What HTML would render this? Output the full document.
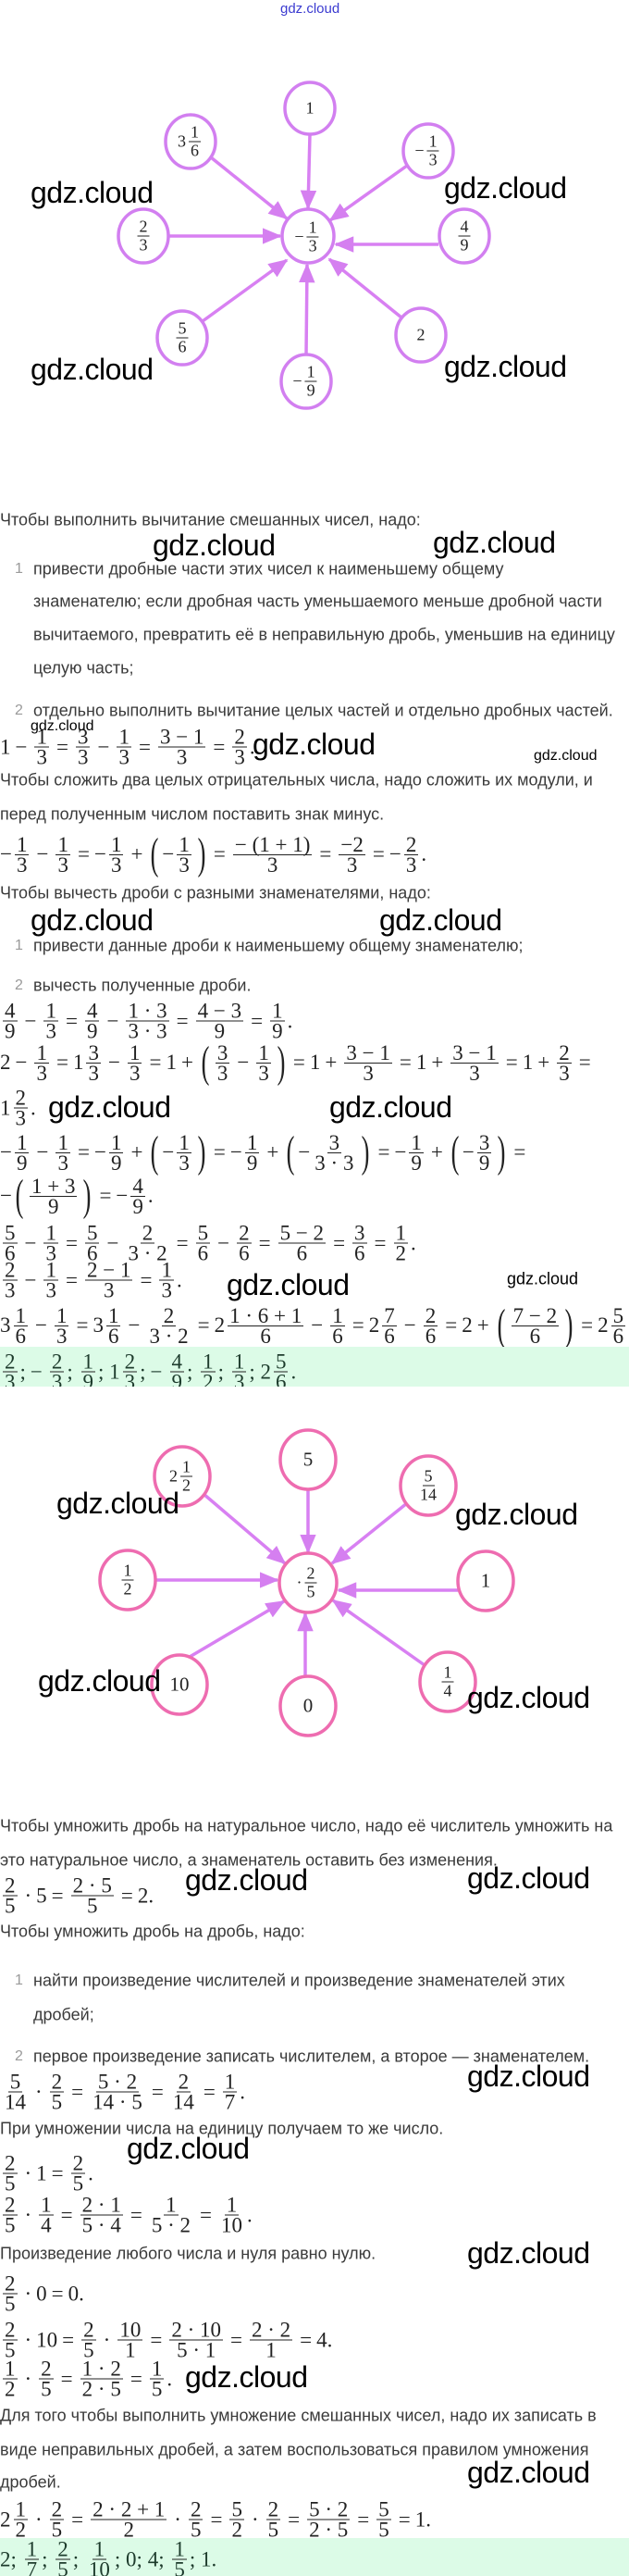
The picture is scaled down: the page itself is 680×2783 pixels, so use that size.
<!DOCTYPE html>
<html><head><meta charset="utf-8">
<style>
body{margin:0;background:#fff;width:680px;height:2783px;position:relative;overflow:hidden;font-family:"Liberation Sans",sans-serif;}
.a{position:absolute;white-space:nowrap}
.t{position:absolute;white-space:nowrap;font-size:18px;color:#3a3a3a;transform:translateY(-50%);left:0}
.li{left:36px}
.num{position:absolute;left:16px;font-size:16px;color:#9a9a9a;transform:translateY(-50%)}
.w{position:absolute;white-space:nowrap;font-family:"Liberation Sans",sans-serif;font-size:32px;color:#000;line-height:1;letter-spacing:-0.5px}
.ws{position:absolute;white-space:nowrap;font-size:16px;color:#000;transform:translateY(-50%)}
.m{position:absolute;left:0;white-space:nowrap;font-family:"Liberation Serif",serif;font-size:23px;color:#222;transform:translateY(-50%);display:flex;align-items:center}
.f{display:inline-flex;flex-direction:column;align-items:center;margin:0 3px;vertical-align:middle}
.f>span{display:block;line-height:15px;padding:0 2px}
.f>span:first-child{border-bottom:1px solid #222;padding-bottom:3px}
.f>span:last-child{padding-top:3px}
.o{margin:0 5px}
.p{font-size:48px;transform:scaleX(0.55);display:inline-block;line-height:1;font-weight:100}
.n{position:absolute;transform:translate(-50%,-50%);font-family:"Liberation Serif",serif;font-size:18px;color:#222;display:flex;align-items:center}
.n .f>span{line-height:13px}
.g{position:absolute;left:0;width:680px;background:#dcfbe7;overflow:hidden}
</style></head><body>

<div class="a" style="left:303px;top:1px;font-size:15px;color:#3b3bd0">gdz.cloud</div>

<svg class="a" style="left:0;top:0" width="680" height="2783">
<defs>
<marker id="ar" markerWidth="6" markerHeight="5" refX="5.5" refY="2.5" orient="auto" markerUnits="strokeWidth"><path d="M0,0 L6,2.5 L0,5 z" fill="#d57ff0"/></marker>
</defs>
<g stroke="#d880f2" stroke-width="3.5" marker-end="url(#ar)">
<line x1="335" y1="145" x2="333" y2="225"/>
<line x1="228" y1="170" x2="310" y2="236"/>
<line x1="440" y1="179" x2="357" y2="238"/>
<line x1="183" y1="255" x2="303" y2="255"/>
<line x1="474" y1="264" x2="363" y2="264"/>
<line x1="219" y1="347" x2="310" y2="281"/>
<line x1="331" y1="384" x2="332" y2="286"/>
<line x1="434" y1="343" x2="356" y2="280"/>
</g>
<g fill="#fff" stroke="#d27ff0" stroke-width="3.5">
<ellipse cx="333" cy="255" rx="28" ry="29"/>
<ellipse cx="335" cy="117" rx="27" ry="28"/>
<ellipse cx="206" cy="153" rx="27" ry="29"/>
<ellipse cx="463" cy="163" rx="27" ry="29"/>
<ellipse cx="155" cy="255" rx="27" ry="29"/>
<ellipse cx="502" cy="255" rx="27" ry="29"/>
<ellipse cx="197" cy="365" rx="27" ry="29"/>
<ellipse cx="331" cy="412" rx="27" ry="29"/>
<ellipse cx="455" cy="362" rx="27" ry="29"/>
</g>
<g stroke="#d880f2" stroke-width="3.5" marker-end="url(#ar)">
<line x1="220" y1="1614" x2="308" y2="1689"/>
<line x1="333" y1="1609" x2="333" y2="1677"/>
<line x1="440" y1="1624" x2="359" y2="1689"/>
<line x1="168" y1="1707" x2="300" y2="1707"/>
<line x1="495" y1="1718" x2="366" y2="1718"/>
<line x1="205" y1="1790" x2="307" y2="1730"/>
<line x1="330" y1="1811" x2="330" y2="1743"/>
<line x1="459" y1="1799" x2="360" y2="1729"/>
</g>
<g fill="#fff" stroke="#ee6cb0" stroke-width="3.5">
<ellipse cx="333" cy="1710" rx="31" ry="32"/>
<ellipse cx="197" cy="1595" rx="30" ry="32"/>
<ellipse cx="333" cy="1577" rx="30" ry="32"/>
<ellipse cx="463" cy="1605" rx="30" ry="32"/>
<ellipse cx="138" cy="1707" rx="30" ry="32"/>
<ellipse cx="525" cy="1708" rx="30" ry="32"/>
<ellipse cx="194" cy="1820" rx="30" ry="32"/>
<ellipse cx="333" cy="1843" rx="30" ry="32"/>
<ellipse cx="484" cy="1817" rx="30" ry="32"/>
</g>
</svg>

<div class="n" style="left:335px;top:117px">1</div>
<div class="n" style="left:206px;top:153px">3<span class="f"><span>1</span><span>6</span></span></div>
<div class="n" style="left:463px;top:163px">−<span class="f"><span>1</span><span>3</span></span></div>
<div class="n" style="left:333px;top:256px">−<span class="f"><span>1</span><span>3</span></span></div>
<div class="n" style="left:155px;top:255px"><span class="f"><span>2</span><span>3</span></span></div>
<div class="n" style="left:502px;top:255px"><span class="f"><span>4</span><span>9</span></span></div>
<div class="n" style="left:197px;top:365px"><span class="f"><span>5</span><span>6</span></span></div>
<div class="n" style="left:331px;top:412px">−<span class="f"><span>1</span><span>9</span></span></div>
<div class="n" style="left:455px;top:362px">2</div>

<div class="w" style="left:33px;top:192px">gdz.cloud</div>
<div class="w" style="left:480px;top:187px">gdz.cloud</div>
<div class="w" style="left:33px;top:383px">gdz.cloud</div>
<div class="w" style="left:480px;top:380px">gdz.cloud</div>

<div class="t" style="top:562px">Чтобы выполнить вычитание смешанных чисел, надо:</div>
<div class="w" style="left:165px;top:573px">gdz.cloud</div>
<div class="w" style="left:468px;top:570px">gdz.cloud</div>
<div class="num" style="top:615px">1</div>
<div class="t li" style="top:615px">привести дробные части этих чисел к наименьшему общему</div>
<div class="t li" style="top:650px">знаменателю; если дробная часть уменьшаемого меньше дробной части</div>
<div class="t li" style="top:686px">вычитаемого, превратить её в неправильную дробь, уменьшив на единицу</div>
<div class="t li" style="top:722px">целую часть;</div>
<div class="num" style="top:768px">2</div>
<div class="t li" style="top:768px">отдельно выполнить вычитание целых частей и отдельно дробных частей.</div>

<div class="m" style="top:807px">1<span class="o">−</span><span class="f"><span>1</span><span>3</span></span><span class="o">=</span><span class="f"><span>3</span><span>3</span></span><span class="o">−</span><span class="f"><span>1</span><span>3</span></span><span class="o">=</span><span class="f"><span>3 − 1</span><span>3</span></span><span class="o">=</span><span class="f"><span>2</span><span>3</span></span>.</div>
<div class="ws" style="left:33px;top:785px">gdz.cloud</div>
<div class="w" style="left:273px;top:788px">gdz.cloud</div>
<div class="ws" style="left:577px;top:817px">gdz.cloud</div>

<div class="t" style="top:843px">Чтобы сложить два целых отрицательных числа, надо сложить их модули, и</div>
<div class="t" style="top:880px">перед полученным числом поставить знак минус.</div>
<div class="m" style="top:923px">−<span class="f"><span>1</span><span>3</span></span><span class="o">−</span><span class="f"><span>1</span><span>3</span></span><span class="o">=</span>−<span class="f"><span>1</span><span>3</span></span><span class="o">+</span><span class="p">(</span>−<span class="f"><span>1</span><span>3</span></span><span class="p">)</span><span class="o">=</span><span class="f"><span>− (1 + 1)</span><span>3</span></span><span class="o">=</span><span class="f"><span>−2</span><span>3</span></span><span class="o">=</span>−<span class="f"><span>2</span><span>3</span></span>.</div>
<div class="t" style="top:965px">Чтобы вычесть дроби с разными знаменателями, надо:</div>
<div class="w" style="left:33px;top:978px">gdz.cloud</div>
<div class="w" style="left:410px;top:978px">gdz.cloud</div>
<div class="num" style="top:1022px">1</div>
<div class="t li" style="top:1022px">привести данные дроби к наименьшему общему знаменателю;</div>
<div class="num" style="top:1065px">2</div>
<div class="t li" style="top:1065px">вычесть полученные дроби.</div>

<div class="m" style="top:1103px"><span class="f"><span>4</span><span>9</span></span><span class="o">−</span><span class="f"><span>1</span><span>3</span></span><span class="o">=</span><span class="f"><span>4</span><span>9</span></span><span class="o">−</span><span class="f"><span>1 · 3</span><span>3 · 3</span></span><span class="o">=</span><span class="f"><span>4 − 3</span><span>9</span></span><span class="o">=</span><span class="f"><span>1</span><span>9</span></span>.</div>
<div class="m" style="top:1148px">2<span class="o">−</span><span class="f"><span>1</span><span>3</span></span><span class="o">=</span>1<span class="f"><span>3</span><span>3</span></span><span class="o">−</span><span class="f"><span>1</span><span>3</span></span><span class="o">=</span>1<span class="o">+</span><span class="p">(</span><span class="f"><span>3</span><span>3</span></span><span class="o">−</span><span class="f"><span>1</span><span>3</span></span><span class="p">)</span><span class="o">=</span>1<span class="o">+</span><span class="f"><span>3 − 1</span><span>3</span></span><span class="o">=</span>1<span class="o">+</span><span class="f"><span>3 − 1</span><span>3</span></span><span class="o">=</span>1<span class="o">+</span><span class="f"><span>2</span><span>3</span></span><span class="o">=</span></div>
<div class="m" style="top:1197px">1<span class="f"><span>2</span><span>3</span></span>.</div>
<div class="w" style="left:52px;top:1180px">gdz.cloud</div>
<div class="w" style="left:356px;top:1180px">gdz.cloud</div>
<div class="m" style="top:1245px">−<span class="f"><span>1</span><span>9</span></span><span class="o">−</span><span class="f"><span>1</span><span>3</span></span><span class="o">=</span>−<span class="f"><span>1</span><span>9</span></span><span class="o">+</span><span class="p">(</span>−<span class="f"><span>1</span><span>3</span></span><span class="p">)</span><span class="o">=</span>−<span class="f"><span>1</span><span>9</span></span><span class="o">+</span><span class="p">(</span>−<span class="f"><span>3</span><span>3 · 3</span></span><span class="p">)</span><span class="o">=</span>−<span class="f"><span>1</span><span>9</span></span><span class="o">+</span><span class="p">(</span>−<span class="f"><span>3</span><span>9</span></span><span class="p">)</span><span class="o">=</span></div>
<div class="m" style="top:1292px">−<span class="p">(</span><span class="f"><span>1 + 3</span><span>9</span></span><span class="p">)</span><span class="o">=</span>−<span class="f"><span>4</span><span>9</span></span>.</div>
<div class="m" style="top:1343px"><span class="f"><span>5</span><span>6</span></span><span class="o">−</span><span class="f"><span>1</span><span>3</span></span><span class="o">=</span><span class="f"><span>5</span><span>6</span></span><span class="o">−</span><span class="f"><span>2</span><span>3 · 2</span></span><span class="o">=</span><span class="f"><span>5</span><span>6</span></span><span class="o">−</span><span class="f"><span>2</span><span>6</span></span><span class="o">=</span><span class="f"><span>5 − 2</span><span>6</span></span><span class="o">=</span><span class="f"><span>3</span><span>6</span></span><span class="o">=</span><span class="f"><span>1</span><span>2</span></span>.</div>
<div class="m" style="top:1383px"><span class="f"><span>2</span><span>3</span></span><span class="o">−</span><span class="f"><span>1</span><span>3</span></span><span class="o">=</span><span class="f"><span>2 − 1</span><span>3</span></span><span class="o">=</span><span class="f"><span>1</span><span>3</span></span>.</div>
<div class="w" style="left:245px;top:1372px">gdz.cloud</div>
<div class="ws" style="left:548px;top:1382px;font-size:18px">gdz.cloud</div>
<div class="m" style="top:1432px">3<span class="f"><span>1</span><span>6</span></span><span class="o">−</span><span class="f"><span>1</span><span>3</span></span><span class="o">=</span>3<span class="f"><span>1</span><span>6</span></span><span class="o">−</span><span class="f"><span>2</span><span>3 · 2</span></span><span class="o">=</span>2<span class="f"><span>1 · 6 + 1</span><span>6</span></span><span class="o">−</span><span class="f"><span>1</span><span>6</span></span><span class="o">=</span>2<span class="f"><span>7</span><span>6</span></span><span class="o">−</span><span class="f"><span>2</span><span>6</span></span><span class="o">=</span>2<span class="o">+</span><span class="p">(</span><span class="f"><span>7 − 2</span><span>6</span></span><span class="p">)</span><span class="o">=</span>2<span class="f"><span>5</span><span>6</span></span>.</div>

<div class="g" style="top:1455px;height:43px">
<div class="m" style="top:27px;color:#1d3b2c"><span class="f"><span>2</span><span>3</span></span>;<span class="o">−</span><span class="f"><span>2</span><span>3</span></span>;&nbsp;<span class="f"><span>1</span><span>9</span></span>;&nbsp;1<span class="f"><span>2</span><span>3</span></span>;<span class="o">−</span><span class="f"><span>4</span><span>9</span></span>;&nbsp;<span class="f"><span>1</span><span>2</span></span>;&nbsp;<span class="f"><span>1</span><span>3</span></span>;&nbsp;2<span class="f"><span>5</span><span>6</span></span>.</div>
</div>

<div class="n" style="left:197px;top:1595px">2<span class="f"><span>1</span><span>2</span></span></div>
<div class="n" style="left:333px;top:1577px;font-size:21px">5</div>
<div class="n" style="left:463px;top:1605px"><span class="f"><span>5</span><span>14</span></span></div>
<div class="n" style="left:138px;top:1707px"><span class="f"><span>1</span><span>2</span></span></div>
<div class="n" style="left:333px;top:1710px">·<span class="f"><span>2</span><span>5</span></span></div>
<div class="n" style="left:525px;top:1708px;font-size:21px">1</div>
<div class="n" style="left:194px;top:1820px;font-size:21px">10</div>
<div class="n" style="left:333px;top:1843px;font-size:21px">0</div>
<div class="n" style="left:484px;top:1817px"><span class="f"><span>1</span><span>4</span></span></div>
<div class="w" style="left:61px;top:1608px">gdz.cloud</div>
<div class="w" style="left:492px;top:1620px">gdz.cloud</div>
<div class="w" style="left:41px;top:1800px">gdz.cloud</div>
<div class="w" style="left:505px;top:1818px">gdz.cloud</div>

<div class="t" style="top:1973px">Чтобы умножить дробь на натуральное число, надо её числитель умножить на</div>
<div class="t" style="top:2010px">это натуральное число, а знаменатель оставить без изменения.</div>
<div class="m" style="top:2048px"><span class="f"><span>2</span><span>5</span></span><span class="o">·</span>5<span class="o">=</span><span class="f"><span>2 · 5</span><span>5</span></span><span class="o">=</span>2.</div>
<div class="w" style="left:200px;top:2015px">gdz.cloud</div>
<div class="w" style="left:505px;top:2013px">gdz.cloud</div>
<div class="t" style="top:2087px">Чтобы умножить дробь на дробь, надо:</div>
<div class="num" style="top:2140px">1</div>
<div class="t li" style="top:2140px">найти произведение числителей и произведение знаменателей этих</div>
<div class="t li" style="top:2177px">дробей;</div>
<div class="num" style="top:2222px">2</div>
<div class="t li" style="top:2222px">первое произведение записать числителем, а второе — знаменателем.</div>
<div class="m" style="top:2260px"><span class="f"><span>5</span><span>14</span></span><span class="o">·</span><span class="f"><span>2</span><span>5</span></span><span class="o">=</span><span class="f"><span>5 · 2</span><span>14 · 5</span></span><span class="o">=</span><span class="f"><span>2</span><span>14</span></span><span class="o">=</span><span class="f"><span>1</span><span>7</span></span>.</div>
<div class="w" style="left:505px;top:2227px">gdz.cloud</div>
<div class="t" style="top:2300px">При умножении числа на единицу получаем то же число.</div>
<div class="w" style="left:137px;top:2305px">gdz.cloud</div>
<div class="m" style="top:2348px"><span class="f"><span>2</span><span>5</span></span><span class="o">·</span>1<span class="o">=</span><span class="f"><span>2</span><span>5</span></span>.</div>
<div class="m" style="top:2393px"><span class="f"><span>2</span><span>5</span></span><span class="o">·</span><span class="f"><span>1</span><span>4</span></span><span class="o">=</span><span class="f"><span>2 · 1</span><span>5 · 4</span></span><span class="o">=</span><span class="f"><span>1</span><span>5 · 2</span></span><span class="o">=</span><span class="f"><span>1</span><span>10</span></span>.</div>
<div class="t" style="top:2435px">Произведение любого числа и нуля равно нулю.</div>
<div class="w" style="left:505px;top:2418px">gdz.cloud</div>
<div class="m" style="top:2478px"><span class="f"><span>2</span><span>5</span></span><span class="o">·</span>0<span class="o">=</span>0.</div>
<div class="m" style="top:2528px"><span class="f"><span>2</span><span>5</span></span><span class="o">·</span>10<span class="o">=</span><span class="f"><span>2</span><span>5</span></span><span class="o">·</span><span class="f"><span>10</span><span>1</span></span><span class="o">=</span><span class="f"><span>2 · 10</span><span>5 · 1</span></span><span class="o">=</span><span class="f"><span>2 · 2</span><span>1</span></span><span class="o">=</span>4.</div>
<div class="m" style="top:2570px"><span class="f"><span>1</span><span>2</span></span><span class="o">·</span><span class="f"><span>2</span><span>5</span></span><span class="o">=</span><span class="f"><span>1 · 2</span><span>2 · 5</span></span><span class="o">=</span><span class="f"><span>1</span><span>5</span></span>.</div>
<div class="w" style="left:200px;top:2552px">gdz.cloud</div>
<div class="t" style="top:2610px">Для того чтобы выполнить умножение смешанных чисел, надо их записать в</div>
<div class="t" style="top:2647px">виде неправильных дробей, а затем воспользоваться правилом умножения</div>
<div class="t" style="top:2682px">дробей.</div>
<div class="w" style="left:505px;top:2655px">gdz.cloud</div>
<div class="m" style="top:2722px">2<span class="f"><span>1</span><span>2</span></span><span class="o">·</span><span class="f"><span>2</span><span>5</span></span><span class="o">=</span><span class="f"><span>2 · 2 + 1</span><span>2</span></span><span class="o">·</span><span class="f"><span>2</span><span>5</span></span><span class="o">=</span><span class="f"><span>5</span><span>2</span></span><span class="o">·</span><span class="f"><span>2</span><span>5</span></span><span class="o">=</span><span class="f"><span>5 · 2</span><span>2 · 5</span></span><span class="o">=</span><span class="f"><span>5</span><span>5</span></span><span class="o">=</span>1.</div>

<div class="g" style="top:2742px;height:41px">
<div class="m" style="top:23px;color:#1d3b2c">2;&nbsp;<span class="f"><span>1</span><span>7</span></span>;&nbsp;<span class="f"><span>2</span><span>5</span></span>;&nbsp;<span class="f"><span>1</span><span>10</span></span>;&nbsp;0;&nbsp;4;&nbsp;<span class="f"><span>1</span><span>5</span></span>;&nbsp;1.</div>
</div>
</body></html>
